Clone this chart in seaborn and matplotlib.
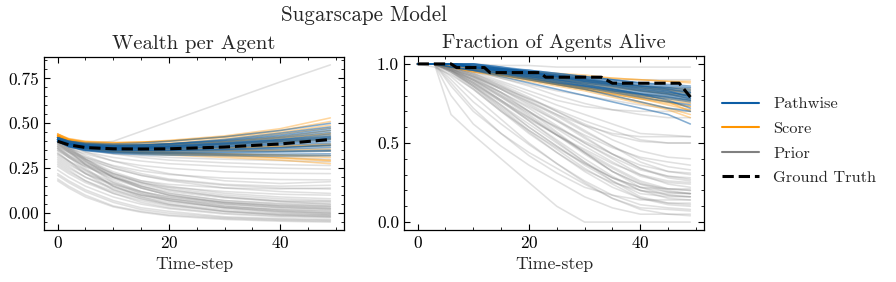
import matplotlib
matplotlib.use("Agg")
import matplotlib.pyplot as plt
from matplotlib.lines import Line2D
from matplotlib.ticker import MultipleLocator, FormatStrFormatter
import seaborn as sns
import pandas as pd

# ---------------- data ----------------
wealth_t = [0, 2, 5, 10, 15, 20, 30, 40, 49]
wealth_truth = [0.40, 0.38, 0.365, 0.358, 0.357, 0.358, 0.368, 0.385, 0.41]

wealth_pathwise = [
    [0.41, 0.39, 0.375, 0.37, 0.372, 0.378, 0.395, 0.42, 0.45],
    [0.40, 0.38, 0.36, 0.35, 0.348, 0.35, 0.355, 0.365, 0.375],
    [0.42, 0.40, 0.385, 0.378, 0.38, 0.385, 0.405, 0.435, 0.47],
    [0.40, 0.375, 0.355, 0.345, 0.34, 0.34, 0.342, 0.345, 0.35],
    [0.41, 0.385, 0.37, 0.36, 0.36, 0.362, 0.37, 0.385, 0.40],
    [0.41, 0.39, 0.38, 0.375, 0.378, 0.385, 0.41, 0.445, 0.48],
    [0.40, 0.37, 0.35, 0.338, 0.333, 0.33, 0.328, 0.328, 0.33],
    [0.41, 0.385, 0.365, 0.356, 0.355, 0.357, 0.365, 0.378, 0.39],
    [0.42, 0.395, 0.38, 0.372, 0.372, 0.376, 0.39, 0.41, 0.43],
    [0.41, 0.39, 0.372, 0.365, 0.366, 0.37, 0.385, 0.405, 0.425],
    [0.40, 0.378, 0.36, 0.35, 0.347, 0.347, 0.35, 0.357, 0.365],
    [0.42, 0.40, 0.39, 0.385, 0.39, 0.40, 0.425, 0.46, 0.50],
    [0.41, 0.385, 0.367, 0.358, 0.357, 0.36, 0.372, 0.39, 0.41],
    [0.40, 0.372, 0.352, 0.34, 0.335, 0.335, 0.336, 0.34, 0.345],
    [0.41, 0.39, 0.375, 0.368, 0.368, 0.372, 0.388, 0.41, 0.44],
    [0.41, 0.383, 0.363, 0.352, 0.35, 0.35, 0.356, 0.365, 0.38],
    [0.42, 0.40, 0.383, 0.377, 0.379, 0.386, 0.402, 0.428, 0.46],
    [0.40, 0.37, 0.348, 0.333, 0.326, 0.323, 0.32, 0.318, 0.32],
    [0.41, 0.387, 0.37, 0.363, 0.363, 0.366, 0.378, 0.397, 0.415],
    [0.41, 0.388, 0.372, 0.364, 0.364, 0.368, 0.382, 0.40, 0.42],
]

wealth_score = [
    [0.43, 0.41, 0.395, 0.39, 0.395, 0.405, 0.43, 0.47, 0.53],
    [0.42, 0.39, 0.365, 0.35, 0.343, 0.338, 0.33, 0.32, 0.31],
    [0.43, 0.40, 0.38, 0.37, 0.368, 0.37, 0.38, 0.395, 0.41],
    [0.44, 0.415, 0.40, 0.393, 0.395, 0.40, 0.42, 0.45, 0.49],
    [0.42, 0.385, 0.36, 0.343, 0.335, 0.33, 0.318, 0.305, 0.29],
    [0.43, 0.40, 0.378, 0.366, 0.363, 0.363, 0.367, 0.375, 0.385],
    [0.43, 0.405, 0.388, 0.38, 0.38, 0.384, 0.398, 0.42, 0.445],
    [0.42, 0.39, 0.362, 0.345, 0.337, 0.332, 0.322, 0.31, 0.295],
    [0.44, 0.41, 0.393, 0.385, 0.386, 0.39, 0.41, 0.44, 0.475],
    [0.42, 0.388, 0.365, 0.352, 0.347, 0.345, 0.345, 0.345, 0.345],
    [0.43, 0.40, 0.38, 0.37, 0.37, 0.373, 0.386, 0.405, 0.43],
    [0.42, 0.385, 0.358, 0.34, 0.33, 0.323, 0.31, 0.295, 0.275],
    [0.43, 0.402, 0.383, 0.373, 0.372, 0.375, 0.385, 0.40, 0.415],
    [0.44, 0.413, 0.398, 0.392, 0.395, 0.402, 0.425, 0.46, 0.51],
    [0.42, 0.39, 0.367, 0.355, 0.35, 0.349, 0.35, 0.353, 0.357],
    [0.43, 0.398, 0.375, 0.363, 0.36, 0.36, 0.363, 0.37, 0.38],
    [0.42, 0.387, 0.362, 0.347, 0.34, 0.336, 0.33, 0.325, 0.32],
    [0.43, 0.405, 0.387, 0.378, 0.378, 0.382, 0.395, 0.415, 0.44],
    [0.44, 0.41, 0.39, 0.38, 0.38, 0.384, 0.40, 0.425, 0.46],
    [0.42, 0.392, 0.37, 0.358, 0.355, 0.355, 0.36, 0.368, 0.375],
]

wealth_prior = [
    [0.41, 0.395, 0.385, 0.40, 0.455, 0.51, 0.62, 0.73, 0.825],
    [0.42, 0.40, 0.385, 0.378, 0.378, 0.38, 0.39, 0.405, 0.42],
    [0.41, 0.39, 0.37, 0.36, 0.355, 0.352, 0.35, 0.35, 0.352],
    [0.40, 0.375, 0.35, 0.33, 0.32, 0.31, 0.30, 0.292, 0.285],
    [0.40, 0.37, 0.34, 0.31, 0.29, 0.275, 0.26, 0.25, 0.245],
    [0.39, 0.36, 0.33, 0.29, 0.265, 0.25, 0.23, 0.222, 0.22],
    [0.38, 0.35, 0.31, 0.265, 0.235, 0.215, 0.195, 0.187, 0.185],
    [0.41, 0.38, 0.34, 0.29, 0.25, 0.22, 0.18, 0.165, 0.175],
    [0.37, 0.34, 0.30, 0.25, 0.21, 0.185, 0.155, 0.14, 0.134],
    [0.36, 0.32, 0.27, 0.21, 0.17, 0.145, 0.12, 0.105, 0.10],
    [0.39, 0.35, 0.30, 0.23, 0.18, 0.15, 0.11, 0.09, 0.08],
    [0.40, 0.36, 0.30, 0.22, 0.17, 0.13, 0.09, 0.07, 0.066],
    [0.35, 0.31, 0.26, 0.20, 0.16, 0.13, 0.09, 0.065, 0.05],
    [0.38, 0.34, 0.28, 0.20, 0.15, 0.11, 0.07, 0.05, 0.04],
    [0.41, 0.36, 0.29, 0.20, 0.14, 0.10, 0.06, 0.04, 0.03],
    [0.33, 0.29, 0.24, 0.17, 0.12, 0.09, 0.05, 0.03, 0.02],
    [0.39, 0.34, 0.27, 0.18, 0.12, 0.08, 0.04, 0.02, 0.01],
    [0.36, 0.31, 0.24, 0.15, 0.10, 0.07, 0.03, 0.01, 0.0],
    [0.30, 0.26, 0.20, 0.13, 0.09, 0.06, 0.03, 0.01, 0.0],
    [0.40, 0.35, 0.27, 0.17, 0.11, 0.07, 0.03, 0.005, -0.005],
    [0.37, 0.32, 0.25, 0.15, 0.09, 0.05, 0.01, -0.01, -0.015],
    [0.34, 0.29, 0.22, 0.13, 0.08, 0.045, 0.01, -0.01, -0.02],
    [0.28, 0.24, 0.18, 0.11, 0.06, 0.03, 0.0, -0.015, -0.02],
    [0.22, 0.18, 0.13, 0.07, 0.03, 0.01, -0.02, -0.03, -0.035],
    [0.21, 0.17, 0.12, 0.06, 0.02, 0.0, -0.025, -0.035, -0.04],
    [0.19, 0.15, 0.10, 0.04, 0.01, -0.01, -0.03, -0.04, -0.045],
    [0.18, 0.14, 0.09, 0.035, 0.005, -0.015, -0.035, -0.045, -0.05],
    [0.42, 0.37, 0.30, 0.21, 0.15, 0.11, 0.07, 0.055, 0.05],
    [0.38, 0.34, 0.29, 0.22, 0.17, 0.14, 0.10, 0.08, 0.07],
    [0.35, 0.31, 0.26, 0.19, 0.14, 0.10, 0.06, 0.04, 0.035],
    [0.32, 0.28, 0.22, 0.15, 0.10, 0.07, 0.035, 0.02, 0.015],
    [0.40, 0.36, 0.31, 0.25, 0.21, 0.18, 0.14, 0.12, 0.11],
    [0.37, 0.33, 0.28, 0.22, 0.18, 0.16, 0.14, 0.135, 0.14],
    [0.29, 0.25, 0.20, 0.14, 0.10, 0.08, 0.05, 0.03, 0.025],
    [0.26, 0.22, 0.17, 0.11, 0.07, 0.04, 0.01, -0.005, -0.01],
    [0.41, 0.37, 0.32, 0.26, 0.22, 0.19, 0.16, 0.15, 0.155],
    [0.24, 0.20, 0.15, 0.09, 0.05, 0.025, -0.005, -0.02, -0.025],
    [0.39, 0.35, 0.29, 0.20, 0.14, 0.10, 0.055, 0.035, 0.025],
    [0.31, 0.27, 0.22, 0.16, 0.12, 0.09, 0.06, 0.045, 0.04],
    [0.36, 0.32, 0.27, 0.20, 0.15, 0.12, 0.085, 0.065, 0.06],
    [0.42, 0.40, 0.38, 0.36, 0.35, 0.34, 0.325, 0.31, 0.30],
    [0.41, 0.385, 0.36, 0.33, 0.31, 0.295, 0.28, 0.27, 0.265],
    [0.33, 0.29, 0.23, 0.16, 0.11, 0.08, 0.04, 0.015, 0.005],
    [0.27, 0.23, 0.18, 0.12, 0.08, 0.05, 0.02, 0.0, -0.01],
]

alive_t = [0, 3, 6, 10, 15, 20, 25, 30, 35, 40, 45, 49]
alive_truth_t = [0, 6, 7, 12, 13, 22, 23, 33, 35, 47, 49]
alive_truth = [1.0, 1.0, 0.977, 0.977, 0.945, 0.945, 0.916, 0.916, 0.878, 0.878, 0.79]

alive_pathwise = [
    [1, 1, 1, 0.98, 0.96, 0.94, 0.92, 0.90, 0.88, 0.86, 0.85, 0.84],
    [1, 1, 1, 0.98, 0.95, 0.92, 0.89, 0.86, 0.83, 0.80, 0.78, 0.76],
    [1, 1, 1, 1, 0.98, 0.96, 0.94, 0.92, 0.90, 0.88, 0.87, 0.86],
    [1, 1, 0.98, 0.96, 0.93, 0.90, 0.87, 0.84, 0.80, 0.76, 0.72, 0.70],
    [1, 1, 1, 0.98, 0.96, 0.93, 0.91, 0.88, 0.86, 0.84, 0.82, 0.80],
    [1, 1, 1, 0.99, 0.97, 0.95, 0.93, 0.91, 0.89, 0.87, 0.85, 0.83],
    [1, 1, 0.98, 0.96, 0.92, 0.88, 0.84, 0.80, 0.76, 0.72, 0.68, 0.62],
    [1, 1, 1, 0.98, 0.95, 0.93, 0.90, 0.88, 0.85, 0.83, 0.81, 0.78],
    [1, 1, 1, 0.98, 0.97, 0.95, 0.93, 0.90, 0.88, 0.86, 0.84, 0.82],
    [1, 1, 1, 0.97, 0.94, 0.91, 0.88, 0.85, 0.82, 0.79, 0.76, 0.74],
    [1, 1, 1, 1, 0.98, 0.95, 0.92, 0.90, 0.87, 0.85, 0.83, 0.81],
    [1, 1, 1, 0.98, 0.96, 0.94, 0.91, 0.89, 0.87, 0.85, 0.83, 0.79],
    [1, 1, 0.98, 0.96, 0.94, 0.91, 0.88, 0.86, 0.83, 0.81, 0.79, 0.77],
    [1, 1, 1, 0.99, 0.97, 0.94, 0.92, 0.89, 0.87, 0.84, 0.82, 0.80],
    [1, 1, 1, 0.98, 0.95, 0.92, 0.90, 0.87, 0.84, 0.81, 0.79, 0.77],
    [1, 1, 1, 1, 0.97, 0.95, 0.93, 0.91, 0.88, 0.86, 0.84, 0.82],
    [1, 1, 1, 0.98, 0.96, 0.93, 0.90, 0.87, 0.84, 0.81, 0.77, 0.72],
    [1, 1, 1, 0.99, 0.97, 0.96, 0.94, 0.92, 0.90, 0.88, 0.86, 0.85],
    [1, 1, 1, 0.97, 0.94, 0.92, 0.89, 0.86, 0.84, 0.82, 0.80, 0.78],
    [1, 1, 1, 0.98, 0.96, 0.94, 0.92, 0.89, 0.86, 0.83, 0.81, 0.79],
]

alive_score = [
    [1, 1, 1, 0.98, 0.96, 0.94, 0.93, 0.92, 0.91, 0.90, 0.89, 0.88],
    [1, 1, 0.98, 0.96, 0.93, 0.90, 0.87, 0.84, 0.80, 0.76, 0.72, 0.68],
    [1, 1, 1, 0.97, 0.94, 0.91, 0.88, 0.85, 0.82, 0.79, 0.76, 0.73],
    [1, 1, 1, 0.98, 0.96, 0.93, 0.91, 0.89, 0.87, 0.85, 0.83, 0.82],
    [1, 1, 0.98, 0.95, 0.92, 0.89, 0.86, 0.83, 0.79, 0.75, 0.71, 0.66],
    [1, 1, 1, 0.98, 0.95, 0.93, 0.91, 0.89, 0.87, 0.85, 0.84, 0.83],
    [1, 1, 1, 0.97, 0.95, 0.92, 0.89, 0.87, 0.84, 0.81, 0.79, 0.77],
    [1, 1, 1, 0.99, 0.97, 0.95, 0.94, 0.93, 0.91, 0.90, 0.89, 0.89],
    [1, 1, 0.98, 0.96, 0.93, 0.91, 0.88, 0.85, 0.82, 0.79, 0.76, 0.70],
    [1, 1, 1, 0.98, 0.96, 0.93, 0.90, 0.88, 0.86, 0.83, 0.81, 0.80],
    [1, 1, 1, 0.97, 0.94, 0.91, 0.88, 0.85, 0.83, 0.80, 0.77, 0.75],
    [1, 1, 1, 0.98, 0.95, 0.92, 0.90, 0.87, 0.85, 0.83, 0.81, 0.78],
    [1, 1, 0.98, 0.95, 0.93, 0.90, 0.87, 0.84, 0.81, 0.78, 0.74, 0.71],
    [1, 1, 1, 0.99, 0.97, 0.95, 0.93, 0.90, 0.88, 0.86, 0.85, 0.84],
    [1, 1, 1, 0.97, 0.94, 0.92, 0.89, 0.86, 0.83, 0.80, 0.78, 0.76],
    [1, 1, 1, 0.98, 0.96, 0.93, 0.91, 0.88, 0.86, 0.84, 0.82, 0.80],
    [1, 1, 0.98, 0.96, 0.93, 0.90, 0.87, 0.84, 0.81, 0.78, 0.75, 0.73],
    [1, 1, 1, 0.98, 0.96, 0.94, 0.92, 0.90, 0.88, 0.86, 0.84, 0.81],
]

alive_prior = [
    [1, 1, 0.68, 0.55, 0.40, 0.25, 0.10, 0.0, 0.0, 0.0, 0.0, 0.0],
    [1, 1, 0.80, 0.62, 0.48, 0.36, 0.26, 0.16, 0.09, 0.05, 0.05, 0.05],
    [1, 1, 0.86, 0.70, 0.56, 0.44, 0.34, 0.24, 0.15, 0.09, 0.08, 0.07],
    [1, 1, 0.95, 0.86, 0.72, 0.58, 0.46, 0.34, 0.24, 0.15, 0.11, 0.10],
    [1, 0.98, 0.93, 0.84, 0.70, 0.56, 0.44, 0.32, 0.22, 0.15, 0.12, 0.12],
    [1, 1, 0.96, 0.88, 0.76, 0.64, 0.52, 0.40, 0.29, 0.20, 0.15, 0.14],
    [1, 1, 0.95, 0.86, 0.74, 0.62, 0.50, 0.38, 0.28, 0.20, 0.17, 0.16],
    [1, 1, 0.97, 0.90, 0.80, 0.68, 0.56, 0.44, 0.32, 0.24, 0.19, 0.18],
    [1, 1, 0.94, 0.84, 0.70, 0.58, 0.47, 0.37, 0.28, 0.22, 0.19, 0.18],
    [1, 1, 0.96, 0.88, 0.77, 0.66, 0.55, 0.45, 0.35, 0.26, 0.21, 0.20],
    [1, 1, 0.97, 0.91, 0.82, 0.72, 0.61, 0.50, 0.40, 0.30, 0.24, 0.22],
    [1, 1, 0.95, 0.87, 0.76, 0.65, 0.55, 0.46, 0.37, 0.30, 0.26, 0.25],
    [1, 1, 0.97, 0.92, 0.84, 0.75, 0.65, 0.54, 0.43, 0.34, 0.29, 0.27],
    [1, 1, 0.96, 0.89, 0.79, 0.69, 0.60, 0.51, 0.43, 0.36, 0.32, 0.30],
    [1, 1, 0.98, 0.93, 0.85, 0.76, 0.67, 0.57, 0.48, 0.40, 0.35, 0.33],
    [1, 1, 0.96, 0.90, 0.82, 0.73, 0.64, 0.55, 0.47, 0.41, 0.38, 0.36],
    [1, 1, 0.98, 0.94, 0.87, 0.79, 0.70, 0.61, 0.52, 0.45, 0.41, 0.40],
    [1, 1, 0.97, 0.92, 0.84, 0.76, 0.68, 0.61, 0.56, 0.54, 0.54, 0.54],
    [1, 1, 0.98, 0.94, 0.86, 0.78, 0.70, 0.62, 0.55, 0.51, 0.50, 0.50],
    [1, 1, 0.98, 0.95, 0.91, 0.87, 0.83, 0.80, 0.77, 0.74, 0.72, 0.71],
    [1, 1, 0.99, 0.96, 0.93, 0.90, 0.87, 0.84, 0.81, 0.78, 0.76, 0.75],
    [1, 1, 1, 0.98, 0.96, 0.94, 0.92, 0.90, 0.88, 0.86, 0.85, 0.85],
    [1, 1, 1, 1, 0.99, 0.99, 0.98, 0.98, 0.98, 0.98, 0.98, 0.98],
    [1, 1, 0.99, 0.97, 0.94, 0.91, 0.88, 0.85, 0.83, 0.81, 0.80, 0.80],
    [1, 1, 0.99, 0.97, 0.95, 0.93, 0.92, 0.91, 0.90, 0.90, 0.90, 0.90],
    [1, 1, 0.88, 0.72, 0.56, 0.42, 0.31, 0.22, 0.17, 0.14, 0.14, 0.14],
    [1, 1, 0.95, 0.85, 0.71, 0.57, 0.44, 0.33, 0.25, 0.20, 0.18, 0.18],
    [1, 1, 0.96, 0.87, 0.74, 0.60, 0.48, 0.36, 0.26, 0.18, 0.16, 0.16],
    [1, 1, 0.97, 0.90, 0.79, 0.67, 0.55, 0.43, 0.32, 0.24, 0.21, 0.20],
    [1, 1, 0.98, 0.92, 0.82, 0.70, 0.57, 0.44, 0.32, 0.22, 0.17, 0.16],
    [1, 1, 0.90, 0.76, 0.62, 0.49, 0.37, 0.26, 0.17, 0.11, 0.09, 0.08],
    [1, 1, 0.97, 0.91, 0.81, 0.70, 0.59, 0.48, 0.38, 0.29, 0.25, 0.24],
    [1, 1, 0.98, 0.93, 0.84, 0.74, 0.64, 0.53, 0.43, 0.34, 0.28, 0.26],
    [1, 1, 0.96, 0.88, 0.77, 0.66, 0.55, 0.44, 0.34, 0.25, 0.20, 0.18],
    [1, 1, 0.98, 0.94, 0.88, 0.81, 0.74, 0.68, 0.62, 0.56, 0.55, 0.54],
    [1, 1, 0.99, 0.95, 0.89, 0.83, 0.77, 0.73, 0.71, 0.70, 0.70, 0.70],
    [1, 1, 0.97, 0.89, 0.77, 0.64, 0.51, 0.38, 0.26, 0.16, 0.12, 0.11],
    [1, 1, 0.96, 0.90, 0.80, 0.70, 0.60, 0.50, 0.41, 0.33, 0.29, 0.28],
    [1, 1, 0.98, 0.93, 0.86, 0.77, 0.68, 0.58, 0.48, 0.38, 0.32, 0.31],
    [1, 1, 0.97, 0.92, 0.85, 0.78, 0.71, 0.64, 0.58, 0.52, 0.50, 0.50],
    [1, 1, 0.99, 0.96, 0.91, 0.86, 0.80, 0.75, 0.71, 0.68, 0.66, 0.66],
    [1, 1, 0.92, 0.80, 0.65, 0.50, 0.37, 0.25, 0.15, 0.08, 0.05, 0.04],
    [1, 1, 0.96, 0.86, 0.73, 0.60, 0.48, 0.37, 0.28, 0.22, 0.21, 0.21],
]

method_names = ["Pathwise", "Score", "Prior", "Ground Truth"]
colors = {"Pathwise": "#0C5DA5", "Score": "#FF9500", "Prior": "#808080"}
alphas = {"Pathwise": 0.5, "Score": 0.38, "Prior": 0.24}


def long_frame(t, runs, method):
    rows = []
    for r, vals in enumerate(runs):
        for ti, v in zip(t, vals):
            rows.append({"time": ti, "value": v, "run": f"{method}{r}", "method": method})
    return pd.DataFrame(rows)


# ---------------- style ----------------
sns.set_theme(style="ticks")
plt.rcParams.update({
    "font.family": "serif",
    "font.serif": ["cmr10", "DejaVu Serif"],
    "mathtext.fontset": "cm",
    "axes.formatter.use_mathtext": True,
    "axes.unicode_minus": False,
    "axes.linewidth": 0.9,
    "axes.edgecolor": "black",
    "xtick.direction": "in",
    "ytick.direction": "in",
    "xtick.top": True,
    "ytick.right": True,
    "xtick.minor.visible": True,
    "ytick.minor.visible": True,
    "xtick.major.size": 4.5,
    "ytick.major.size": 4.5,
    "xtick.minor.size": 2.3,
    "ytick.minor.size": 2.3,
    "xtick.major.width": 0.8,
    "ytick.major.width": 0.8,
    "xtick.minor.width": 0.6,
    "ytick.minor.width": 0.6,
    "xtick.labelsize": 12.5,
    "ytick.labelsize": 12.5,
    "axes.labelsize": 12.8,
    "axes.titlesize": 14.9,
    "xtick.color": "black",
    "ytick.color": "black",
})

fig = plt.figure(figsize=(8.96, 2.82), dpi=100)
ax1 = fig.add_axes([44 / 896, 52 / 282, 300 / 896, 173 / 282])
ax2 = fig.add_axes([404 / 896, 52 / 282, 300 / 896, 174 / 282])

panels = [
    (ax1, wealth_t, {"Prior": wealth_prior, "Score": wealth_score, "Pathwise": wealth_pathwise},
     wealth_t, wealth_truth, "Wealth per Agent"),
    (ax2, alive_t, {"Prior": alive_prior, "Score": alive_score, "Pathwise": alive_pathwise},
     alive_truth_t, alive_truth, "Fraction of Agents Alive"),
]

for ax, t, series, tt, truth, title in panels:
    for method in ["Prior", "Score", "Pathwise"]:
        df = long_frame(t, series[method], method)
        sns.lineplot(data=df, x="time", y="value", units="run", estimator=None,
                     color=colors[method], alpha=alphas[method], lw=1.15,
                     legend=False, ax=ax)
    sns.lineplot(x=tt, y=truth, color="black", linestyle="--", lw=2.2, ax=ax,
                 legend=False)
    ax.set_title(title, pad=6)
    ax.set_xlabel("Time-step")
    ax.set_ylabel("")
    ax.xaxis.set_major_locator(MultipleLocator(20))
    ax.xaxis.set_minor_locator(MultipleLocator(5))

ax1.yaxis.set_major_locator(MultipleLocator(0.25))
ax1.yaxis.set_minor_locator(MultipleLocator(0.05))
ax1.yaxis.set_major_formatter(FormatStrFormatter("%.2f"))
ax2.yaxis.set_major_locator(MultipleLocator(0.5))
ax2.yaxis.set_minor_locator(MultipleLocator(0.1))
ax2.yaxis.set_major_formatter(FormatStrFormatter("%.1f"))

fig.suptitle("Sugarscape Model", x=364 / 896, y=0.98, fontsize=15.2)

handles = [
    Line2D([], [], color=colors["Pathwise"], lw=1.5),
    Line2D([], [], color=colors["Score"], lw=1.5),
    Line2D([], [], color="#808080", lw=1.5),
    Line2D([], [], color="black", lw=2.2, linestyle="--"),
]
fig.legend(handles, method_names, loc="center left", bbox_to_anchor=(0.789, 0.5),
           frameon=False, fontsize=11.8, handlelength=2.25, handletextpad=0.9,
           labelspacing=0.62)

fig.savefig("out.png", dpi=100)
